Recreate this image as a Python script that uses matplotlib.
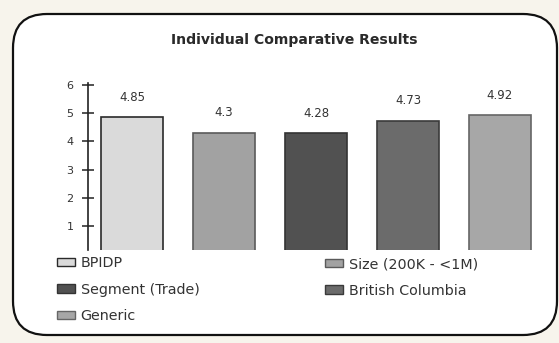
import matplotlib
matplotlib.use("Agg")
import matplotlib.pyplot as plt
from matplotlib.patches import FancyBboxPatch, Patch

categories = ["BPIDP", "Size (200K - <1M)", "Segment (Trade)", "British Columbia", "Generic"]
values = [4.85, 4.3, 4.28, 4.73, 4.92]
value_labels = ["4.85", "4.3", "4.28", "4.73", "4.92"]
yticks = [1, 2, 3, 4, 5, 6]

fills = ["#dadada", "#a2a2a2", "#515151", "#6b6b6b", "#a7a7a7"]
edges = ["#2a2a2a", "#5a5a5a", "#333333", "#3a3a3a", "#666666"]

plt.rcParams['font.family'] = ['DejaVu Sans']

W, H = 559, 343
fig = plt.figure(figsize=(W / 100, H / 100), dpi=100)
fig.patch.set_facecolor("#f7f4ec")

# background frame
bg = fig.add_axes([0, 0, 1, 1])
bg.set_xlim(0, W)
bg.set_ylim(H, 0)
bg.axis("off")
box = FancyBboxPatch((13, 14), 544, 321,
                     boxstyle="round,pad=0,rounding_size=34",
                     facecolor="white", edgecolor="#111111", linewidth=1.6)
bg.add_patch(box)
bg.text(294, 40, "Individual Comparative Results", ha="center", va="center",
        fontsize=10.1, fontweight="bold", color="#2a2a2a")

# chart axes
left, right, top, bottom = 88, 545, 83, 250
ax = fig.add_axes([left / W, 1 - bottom / H, (right - left) / W, (bottom - top) / H])
ax.patch.set_alpha(0)
x = list(range(len(categories)))
bars = ax.bar(x, values, width=0.67, color=fills, edgecolor=edges, linewidth=1.2)
for xi, v, lab in zip(x, values, value_labels):
    ax.annotate(lab, (xi, v), xytext=(0, 14.4), textcoords="offset points",
                ha="center", va="center", fontsize=8.5, color="#333333")
ax.set_xlim(-0.48, 4.49)
ax.set_ylim(0.15, 6.07)
ax.set_yticks(yticks)
ax.set_yticklabels([str(t) for t in yticks])
ax.set_xticks([])
for s in ["top", "right", "bottom"]:
    ax.spines[s].set_visible(False)
ax.spines["left"].set_color("#222222")
ax.spines["left"].set_linewidth(1.2)
ax.tick_params(axis="y", direction="inout", length=9, width=1.1, color="#222222",
               labelsize=8, labelcolor="#333333", pad=6)

# legends (two columns)
handles = [Patch(facecolor=f, edgecolor=e, linewidth=1.0) for f, e in zip(fills, edges)]
col1 = [0, 2, 4]
col2 = [1, 3]
leg_kw = dict(loc="upper left", frameon=False, fontsize=10.3, handlelength=1.25,
              handleheight=0.5, handletextpad=0.4, labelspacing=0.88,
              borderaxespad=0, borderpad=0)
lg1 = fig.legend([handles[i] for i in col1], [categories[i] for i in col1],
                 bbox_to_anchor=(57 / W, 1 - 256 / H), **leg_kw)
for t in lg1.get_texts():
    t.set_color("#333333")
lg2 = fig.legend([handles[i] for i in col2], [categories[i] for i in col2],
                 bbox_to_anchor=(325 / W, 1 - 257 / H), **leg_kw)
for t in lg2.get_texts():
    t.set_color("#333333")

fig.savefig("out.png", dpi=100, facecolor=fig.get_facecolor())
